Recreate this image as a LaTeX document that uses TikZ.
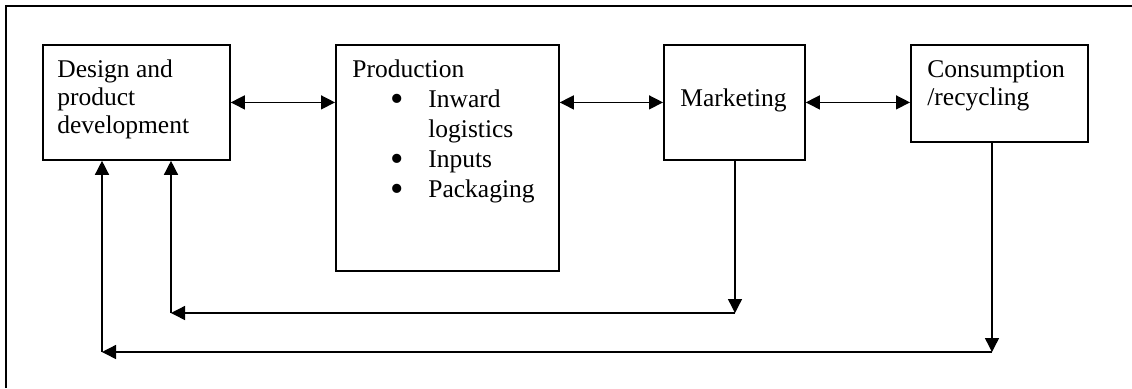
\documentclass[tikz,border=0pt]{standalone}
\usepackage{fontspec}
\usepackage{graphicx}
\setmainfont{Liberation Serif}
\usetikzlibrary{
  arrows.meta
}
\newcommand{\bulletitem}[1]{\hspace*{19pt}\makebox[19pt][l]{\smash{\raisebox{-2pt}{\scalebox{1.5}{\textbullet}}}}#1}
\newcommand{\bulletcont}[1]{\hspace*{38pt}#1}

\begin{document}
\begin{tikzpicture}[
  x=0.5pt, y=-0.5pt,
  block/.style = {draw, line width=0.9pt, inner sep=0pt, anchor=north west},
  blocktext/.style = {inner sep=0pt, anchor=north west, align=left,
    font=\fontsize{12.75}{14}\selectfont},
  link/.style = {line width=0.7pt, -{Triangle[length=7pt,width=7pt]}},
  twoway/.style = {line width=0.7pt,
    {Triangle[length=7pt,width=7pt]}-{Triangle[length=7pt,width=7pt]}}]
  \useasboundingbox (0,0) rectangle (1132,388);
  \draw[line width=1pt] (6,388) -- (6,6) -- (1132,6);

  % the four stages
  \node[block, minimum width=93.5pt, minimum height=57.5pt] (design) at (42,44) {};
  \node[block, minimum width=111.5pt, minimum height=113pt] (prod) at (335,44) {};
  \node[block, minimum width=70.5pt, minimum height=57.5pt] (mkt) at (663,44) {};
  \node[block, minimum width=88.5pt, minimum height=48.5pt] (cons) at (910,44) {};

  \node[blocktext] (designtext) at (57,57.4) {\strut Design and\\product\\development};
  \node[blocktext, font=\fontsize{12.75}{15}\selectfont] (prodtext) at (352,56)
    {\strut Production\\\bulletitem{Inward}\\\bulletcont{logistics}\\
     \bulletitem{Inputs}\\\bulletitem{Packaging}};
  \node[blocktext, anchor=base west] (mkttext) at (680,106) {Marketing};
  \node[blocktext] (constext) at (927,57.4) {\strut Consumption\\/recycling};

  % links along the chain
  \draw[twoway] (design.east) -- (design.east -| prod.west);
  \draw[twoway] (mkt.west -| prod.east) -- (mkt.west);
  \draw[twoway] (mkt.east) -- (mkt.east -| cons.west);

  % feedback loops
  \coordinate (mktturn) at (735,313);
  \coordinate (designturn) at (171,313);
  \coordinate (consturn) at (992,352);
  \coordinate (outerturn) at (102,352);
  \draw[link] (mktturn |- mkt.south) -- (mktturn);
  \draw[link] (mktturn) -- (designturn);
  \draw[link] (designturn) -- (designturn |- design.south);
  \draw[link] (consturn |- cons.south) -- (consturn);
  \draw[link] (consturn) -- (outerturn);
  \draw[link] (outerturn) -- (outerturn |- design.south);
\end{tikzpicture}
\end{document}
